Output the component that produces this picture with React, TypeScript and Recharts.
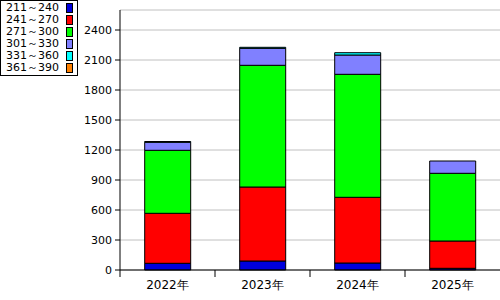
import React from 'react';
import { BarChart, Bar, XAxis, YAxis, CartesianGrid } from 'recharts';

const categories = ['2022年', '2023年', '2024年', '2025年'];
const seriesNames = ['211～240', '241～270', '271～300', '301～330', '331～360', '361～390'];
const seriesColors = ['#0000dd', '#ff0000', '#00ff00', '#8080ff', '#00ffff', '#ff8000'];

const s211 = [67, 90, 70, 17];
const s241 = [500, 740, 657, 273];
const s271 = [630, 1217, 1230, 677];
const s301 = [80, 170, 193, 123];
const s331 = [8, 10, 23, 0];
const s361 = [0, 0, 0, 0];

const yTicks = [0, 300, 600, 900, 1200, 1500, 1800, 2100, 2400];

const seriesValues = [s211, s241, s271, s301, s331, s361];

const data = categories.map((c, i) => {
  const row: Record<string, string | number> = { year: c };
  seriesNames.forEach((n, k) => {
    row[n] = seriesValues[k][i];
  });
  return row;
});

const W = 500;
const H = 300;
const M = { top: 10, right: 0, bottom: 0, left: 0 };
const X_AXIS_H = 30;
const AXIS_Y = H - M.bottom - X_AXIS_H;
const BAND = (W - 120 - M.right) / categories.length;

const XTick = (props: any) => {
  const { x, payload } = props;
  return (
    <g>
      <line x1={x - BAND / 2} x2={x - BAND / 2} y1={AXIS_Y} y2={AXIS_Y + 7} stroke="#000" />
      <text x={x} y={AXIS_Y + 19} textAnchor="middle" fontSize={12} fill="#000">
        {payload.value}
      </text>
    </g>
  );
};

const LegendBox = () => (
  <div
    style={{
      position: 'absolute',
      left: 0,
      top: 0,
      border: '1px solid #000',
      background: '#fff',
      padding: '1px 4px 1px 5px',
      fontSize: 11,
      lineHeight: '12px',
      width: 67,
    }}
  >
    {seriesNames.map((n, k) => (
      <div key={n} style={{ display: 'flex', justifyContent: 'space-between', alignItems: 'center' }}>
        <span>{n}</span>
        <span
          style={{
            display: 'inline-block',
            width: 5,
            height: 8,
            background: seriesColors[k],
            border: '1px solid #000',
          }}
        />
      </div>
    ))}
  </div>
);

export default function App() {
  return (
    <div style={{ position: 'fixed', left: 0, top: 0, width: W, height: H, background: '#fff', fontFamily: 'DejaVu Sans' }}>
      <BarChart width={W} height={H} data={data} margin={M} barCategoryGap="26%">
        <CartesianGrid vertical={false} stroke="#c0c0c0" />
        <XAxis
          dataKey="year"
          height={X_AXIS_H}
          axisLine={{ stroke: '#000' }}
          tickLine={false}
          tick={<XTick />}
          interval={0}
        />
        <YAxis
          width={120}
          domain={[0, 2600]}
          ticks={yTicks}
          axisLine={{ stroke: '#000' }}
          tickLine={{ stroke: '#000' }}
          tickSize={5}
          tickMargin={3}
          tick={{ fontSize: 11, fill: '#000' }}
        />
        {seriesNames.map((n, k) => (
          <Bar
            key={n}
            dataKey={n}
            stackId="a"
            fill={seriesColors[k]}
            stroke="#000"
            strokeWidth={1}
            isAnimationActive={false}
          />
        ))}
      </BarChart>
      <LegendBox />
    </div>
  );
}
